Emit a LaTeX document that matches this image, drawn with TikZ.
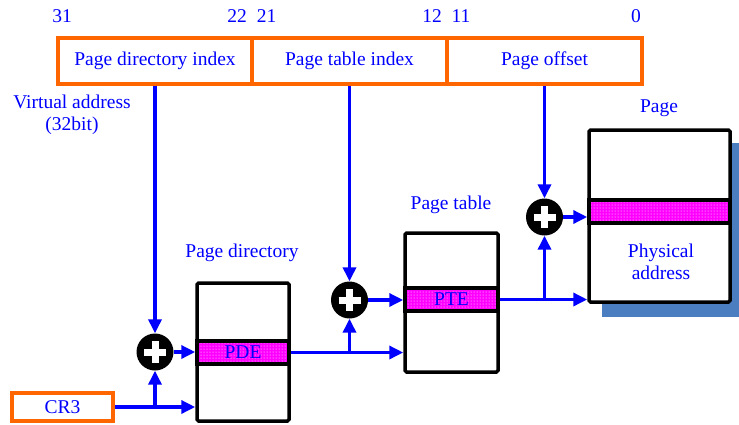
\documentclass[tikz,border=0pt]{standalone}
\usepackage{fontspec}
\setmainfont{Liberation Serif}
\usetikzlibrary{arrows.meta,patterns}
\definecolor{vorange}{RGB}{255,102,0}
\definecolor{shadowblue}{RGB}{74,126,193}
\definecolor{pinkfill}{RGB}{255,0,255}
\begin{document}
\begin{tikzpicture}[x=1pt,y=-1pt,
  font=\fontsize{19.5}{23}\selectfont,
  conn/.style={draw=blue, line width=3.4pt, -{Triangle[length=14pt,width=13pt]}},
  field/.style={draw=vorange, line width=3.3pt, minimum height=46pt, text=blue, inner sep=0pt},
  tbl/.style={draw=black, line width=3.5pt, fill=white, rounded corners=1.5pt, inner sep=0pt},
  entry/.style={draw=black, line width=3.5pt, preaction={fill=pinkfill}, pattern=dots, pattern color=white, text=blue, inner sep=0pt, minimum height=23pt},
  adder/.style={circle, fill=black, minimum size=37pt, inner sep=0pt,
    path picture={\draw[white,line width=7pt] (path picture bounding box.center) +(-11pt,0) -- +(11pt,0) +(0,-11pt) -- +(0,11pt);}},
  lbl/.style={text=blue, inner sep=0pt, anchor=base},
  shadowbox/.style={fill=shadowblue}]
\useasboundingbox (0,0) rectangle (739,424);

% bit numbers
\node[lbl] (b31) at (62,22) {31};
\node[lbl] (b22) at (237,22) {22};
\node[lbl] (b21) at (266.5,22) {21};
\node[lbl] (b12) at (432,22) {12};
\node[lbl] (b11) at (461,22) {11};
\node[lbl] (b0) at (636,22) {0};

% virtual address fields
\node[field, minimum width=194pt] (pdi) at (155,61) {Page directory index};
\node[field, minimum width=195pt] (pti) at (349.5,61) {Page table index};
\node[field, minimum width=195pt] (poff) at (544.5,61) {Page offset};

\node[lbl] (va1) at (72,108) {Virtual address};
\node[lbl] (va2) at (72,130) {(32bit)};

% labels
\node[lbl] (lpd) at (242,257) {Page directory};
\node[lbl] (lpt) at (451,209) {Page table};
\node[lbl] (lpg) at (659,112) {Page};

% CR3
\node[field, minimum width=101pt, minimum height=28pt] (cr3) at (62.5,407) {CR3};

% page directory
\node[tbl, minimum width=92pt, minimum height=138pt] (pd) at (243,352) {};
\node[entry, minimum width=92pt] (pde) at (243,352.5) {PDE};

% page table
\node[tbl, minimum width=93pt, minimum height=139pt] (pt) at (451.5,302.5) {};
\node[entry, minimum width=93pt] (pte) at (451.5,299.5) {PTE};

% page
\path[shadowbox] (602,143) rectangle (739,317);
\node[tbl, minimum width=141pt, minimum height=172pt] (pg) at (659.5,216) {};
\node[entry, minimum width=141pt] (pgb) at (659.5,211.5) {};
\node[text=blue, align=center, inner sep=0pt, font=\fontsize{19.5}{22}\selectfont] (phys) at (661,262) {Physical\\address};

% adders
\node[adder] (add1) at (155,352) {};
\node[adder] (add2) at (349.5,300) {};
\node[adder] (add3) at (544.5,217) {};

% junction points
\coordinate (j1) at (add1 |- cr3.east);
\coordinate (j2) at (add2 |- pde.east);
\coordinate (j3) at (add3 |- pte.east);

% connectors
\draw[conn] (pdi.south) -- (add1.north);
\draw[conn] (add1.east) -- (add1.east -| pd.west);
\draw[conn] (cr3.east) -- (cr3.east -| pd.west);
\draw[conn] (j1) -- (add1.south);

\draw[conn] (pti.south) -- (add2.north);
\draw[conn] (add2.east) -- (add2.east -| pt.west);
\draw[conn] (pde.east) -- (pde.east -| pt.west);
\draw[conn] (j2) -- (add2.south);

\draw[conn] (poff.south) -- (add3.north);
\draw[conn] (add3.east) -- (add3.east -| pg.west);
\draw[conn] (pte.east) -- (pte.east -| pg.west);
\draw[conn] (j3) -- (add3.south);
\end{tikzpicture}
\end{document}
